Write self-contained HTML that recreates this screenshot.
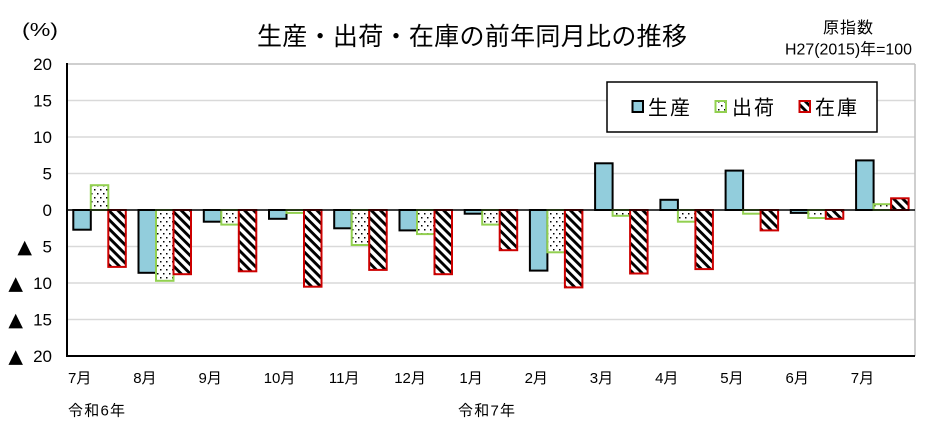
<!DOCTYPE html>
<html><head><meta charset="utf-8">
<style>
html,body{margin:0;padding:0;background:#fff;}
svg{display:block;}
</style></head>
<body>
<svg width="932" height="446" viewBox="0 0 932 446" xmlns="http://www.w3.org/2000/svg">
<defs>
<pattern id="dots" width="6" height="8" patternUnits="userSpaceOnUse">
<rect width="6" height="8" fill="#fff"/>
<rect x="1" y="1" width="1.5" height="1.5" fill="#000"/>
<rect x="4" y="5" width="1.5" height="1.5" fill="#000"/>
</pattern>
<pattern id="stripes" width="6.4" height="6.4" patternUnits="userSpaceOnUse" patternTransform="rotate(45)">
<rect width="6.4" height="6.4" fill="#fff"/>
<rect width="6.4" height="2.9" fill="#000"/>
</pattern>
</defs>
<rect width="932" height="446" fill="#fff"/>

<!-- gridlines -->
<g stroke="#D9D9D9" stroke-width="1.5">
<line x1="67" y1="100.5" x2="915" y2="100.5"/>
<line x1="67" y1="137" x2="915" y2="137"/>
<line x1="67" y1="173.5" x2="915" y2="173.5"/>
<line x1="67" y1="246.5" x2="915" y2="246.5"/>
<line x1="67" y1="283" x2="915" y2="283"/>
<line x1="67" y1="319.5" x2="915" y2="319.5"/>
</g>
<line x1="67" y1="64" x2="915" y2="64" stroke="#BFBFBF" stroke-width="1.5"/>
<line x1="915" y1="64" x2="915" y2="356" stroke="#BFBFBF" stroke-width="1.5"/>

<!-- bars -->
<g stroke-width="2">
<g fill="#92CDDC" stroke="#000">
<rect x="73.3" y="210" width="17.5" height="19.7"/>
<rect x="138.5" y="210" width="17.5" height="62.8"/>
<rect x="203.8" y="210" width="17.5" height="11.7"/>
<rect x="269.0" y="210" width="17.5" height="8.8"/>
<rect x="334.2" y="210" width="17.5" height="18.3"/>
<rect x="399.5" y="210" width="17.5" height="20.4"/>
<rect x="464.7" y="210" width="17.5" height="3.7"/>
<rect x="529.9" y="210" width="17.5" height="60.6"/>
<rect x="595.1" y="163.3" width="17.5" height="46.7"/>
<rect x="660.4" y="199.8" width="17.5" height="10.2"/>
<rect x="725.6" y="170.6" width="17.5" height="39.4"/>
<rect x="790.8" y="210" width="17.5" height="2.9"/>
<rect x="856.1" y="160.4" width="17.5" height="49.6"/>
</g>
<g fill="url(#dots)" stroke="#92D050">
<rect x="90.8" y="185.2" width="17.5" height="24.8"/>
<rect x="156.0" y="210" width="17.5" height="70.8"/>
<rect x="221.3" y="210" width="17.5" height="14.6"/>
<rect x="286.5" y="210" width="17.5" height="2.9"/>
<rect x="351.7" y="210" width="17.5" height="35.0"/>
<rect x="417.0" y="210" width="17.5" height="24.1"/>
<rect x="482.2" y="210" width="17.5" height="14.6"/>
<rect x="547.4" y="210" width="17.5" height="42.3"/>
<rect x="612.6" y="210" width="17.5" height="5.8"/>
<rect x="677.9" y="210" width="17.5" height="11.7"/>
<rect x="743.1" y="210" width="17.5" height="3.7"/>
<rect x="808.3" y="210" width="17.5" height="8.0"/>
<rect x="873.6" y="204.2" width="17.5" height="5.8"/>
</g>
<g fill="url(#stripes)" stroke="#CC0000">
<rect x="108.3" y="210" width="17.5" height="56.9"/>
<rect x="173.5" y="210" width="17.5" height="64.2"/>
<rect x="238.8" y="210" width="17.5" height="61.3"/>
<rect x="304.0" y="210" width="17.5" height="76.7"/>
<rect x="369.2" y="210" width="17.5" height="59.9"/>
<rect x="434.5" y="210" width="17.5" height="64.2"/>
<rect x="499.7" y="210" width="17.5" height="40.2"/>
<rect x="564.9" y="210" width="17.5" height="77.4"/>
<rect x="630.1" y="210" width="17.5" height="63.5"/>
<rect x="695.4" y="210" width="17.5" height="59.1"/>
<rect x="760.6" y="210" width="17.5" height="20.4"/>
<rect x="825.8" y="210" width="17.5" height="8.8"/>
<rect x="891.1" y="198.3" width="17.5" height="11.7"/>
</g>
</g>

<!-- axes -->
<line x1="67" y1="210" x2="915" y2="210" stroke="#000" stroke-width="1.5"/>
<line x1="67" y1="63" x2="67" y2="357" stroke="#000" stroke-width="2"/>
<line x1="66" y1="356" x2="915" y2="356" stroke="#000" stroke-width="2"/>

<!-- y labels -->
<g font-family="Liberation Sans, sans-serif" font-size="17" fill="#000" text-anchor="end">
<text x="52" y="70">20</text>
<text x="52" y="106.5">15</text>
<text x="52" y="143">10</text>
<text x="52" y="179.5">5</text>
<text x="52" y="216">0</text>
<text x="52" y="252.5">5</text>
<text x="52" y="289">10</text>
<text x="52" y="325.5">15</text>
<text x="52" y="362">20</text>
</g>
<g font-family="DejaVu Sans, sans-serif" font-size="19" fill="#000" text-anchor="end">
<text x="32" y="253">▲</text>
<text x="23" y="289.5">▲</text>
<text x="23" y="326">▲</text>
<text x="23" y="362.5">▲</text>
</g>

<text x="22" y="36" font-family="Liberation Sans, sans-serif" font-size="18" textLength="36" lengthAdjust="spacingAndGlyphs">(%)</text>

<!-- title -->
<text x="257" y="45" font-family="Noto Sans CJK JP, sans-serif" font-size="25" fill="#000" textLength="430" lengthAdjust="spacing">生産・出荷・在庫の前年同月比の推移</text>
<text x="823" y="33" font-family="Noto Sans CJK JP, sans-serif" font-size="16" textLength="50" lengthAdjust="spacing">原指数</text>
<text x="785" y="54.5" font-family="Liberation Sans, Noto Sans CJK JP, sans-serif" font-size="16" textLength="127" lengthAdjust="spacingAndGlyphs">H27(2015)年=100</text>

<!-- legend -->
<rect x="607" y="82" width="270" height="50" fill="#fff" stroke="#000" stroke-width="1.5"/>
<rect x="632.5" y="101" width="10.5" height="11" fill="#92CDDC" stroke="#000" stroke-width="2"/>
<rect x="715.5" y="101" width="10.5" height="11" fill="url(#dots)" stroke="#92D050" stroke-width="2"/>
<rect x="799.5" y="101" width="10.5" height="11" fill="url(#stripes)" stroke="#CC0000" stroke-width="2"/>
<g font-family="Noto Sans CJK JP, sans-serif" font-size="20" fill="#000">
<text x="648" y="114.5" textLength="42" lengthAdjust="spacing">生産</text>
<text x="732" y="114.5" textLength="42" lengthAdjust="spacing">出荷</text>
<text x="815" y="114.5" textLength="42" lengthAdjust="spacing">在庫</text>
</g>

<!-- x labels -->
<g font-family="Liberation Sans, Noto Sans CJK JP, sans-serif" font-size="15" fill="#000">
<text x="68" y="383">7月</text>
<text x="133.2" y="383">8月</text>
<text x="198.5" y="383">9月</text>
<text x="263.7" y="383">10月</text>
<text x="328.9" y="383">11月</text>
<text x="394.2" y="383">12月</text>
<text x="459.4" y="383">1月</text>
<text x="524.6" y="383">2月</text>
<text x="589.8" y="383">3月</text>
<text x="655.1" y="383">4月</text>
<text x="720.3" y="383">5月</text>
<text x="785.5" y="383">6月</text>
<text x="850.8" y="383">7月</text>
<text x="68" y="415.5" textLength="57" lengthAdjust="spacing">令和6年</text>
<text x="458" y="415.5" textLength="57" lengthAdjust="spacing">令和7年</text>
</g>
</svg>
</body></html>
